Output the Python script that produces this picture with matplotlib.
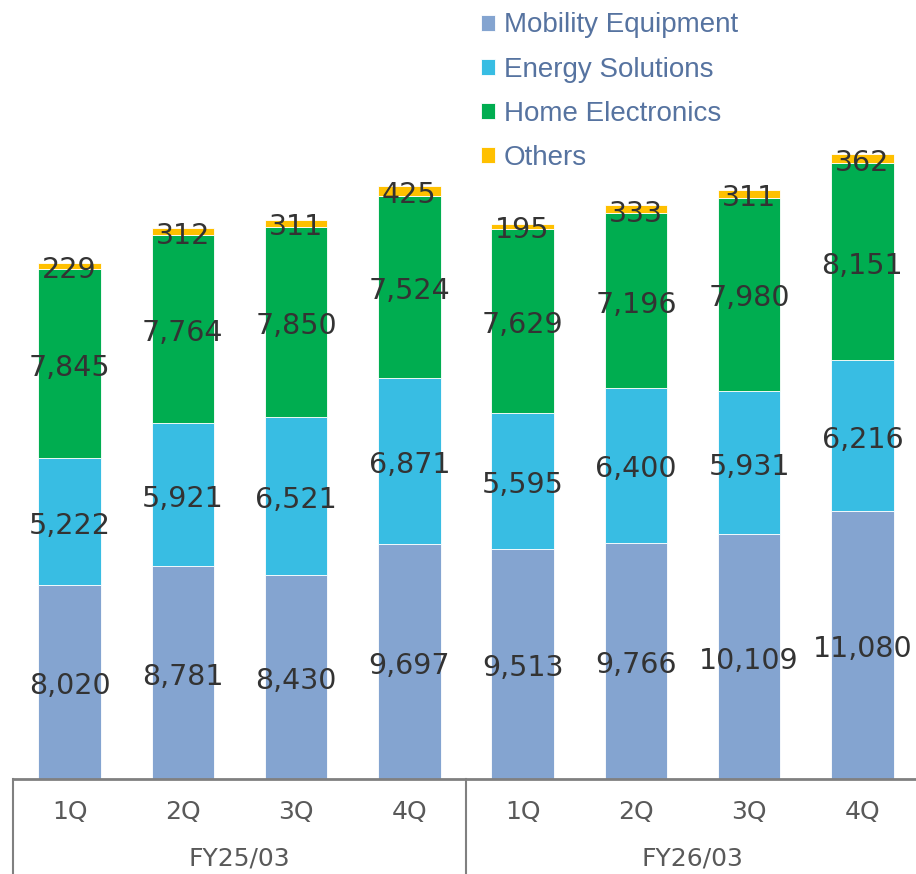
#!/usr/bin/env python3
"""Quarterly sales by segment, stacked bars."""

import matplotlib.pyplot as plt
import numpy as np

quarters = ["1Q", "2Q", "3Q", "4Q", "1Q", "2Q", "3Q", "4Q"]
years = ["FY25/03", "FY26/03"]

mobility = [8020, 8781, 8430, 9697, 9513, 9766, 10109, 11080]
energy = [5222, 5921, 6521, 6871, 5595, 6400, 5931, 6216]
home = [7845, 7764, 7850, 7524, 7629, 7196, 7980, 8151]
others = [229, 312, 311, 425, 195, 333, 311, 362]

segments = ["Mobility Equipment", "Energy Solutions", "Home Electronics", "Others"]
colors = ["#84A4D0", "#38BDE3", "#00AD50", "#FFC000"]


def main() -> None:
    fig = plt.figure(figsize=(9.16, 8.74), dpi=100)
    ax = fig.add_axes([13 / 916, 95 / 874, 906 / 916, 779 / 874])

    x = np.arange(len(quarters))
    bottom = np.zeros(len(quarters))
    for name, vals, c in zip(segments, [mobility, energy, home, others], colors):
        bars = ax.bar(x, vals, 0.55, bottom=bottom, color=c, label=name,
                      edgecolor="white", linewidth=0.6)
        texts = ax.bar_label(bars, labels=[f"{v:,}" for v in vals],
                             label_type="center", fontsize=20.5, color="#333333")
        # labels sit a little below the segment middle in the original
        for t in texts:
            t.xyann = (0, -3)
        bottom += np.array(vals)

    ax.set_xlim(-0.5, 7.5)
    ax.set_ylim(0, 32180)
    ax.set_yticks([])
    for s in ["top", "left", "right"]:
        ax.spines[s].set_visible(False)
    ax.spines["bottom"].set_color("#808080")
    ax.spines["bottom"].set_linewidth(2)

    ax.set_xticks(x, quarters, fontsize=18, color="#595959")
    ax.tick_params(axis="x", length=0, pad=15)

    tr = ax.get_xaxis_transform()
    for xv in [-0.5, 3.5, 7.5]:
        ax.plot([xv, xv], [0, -0.13], transform=tr, color="#808080",
                linewidth=1.5, clip_on=False)
    for i, yr in enumerate(years):
        ax.text(1.5 + 4 * i, -79 / 779, yr, transform=tr, ha="center",
                va="center", fontsize=18, color="#595959")

    ax.legend(loc="upper left", bbox_to_anchor=(462 / 916, 1.008),
              bbox_transform=fig.transFigure, frameon=False,
              prop={"family": "Liberation Sans", "size": 20},
              labelcolor="#5673A0", handlelength=0.5, handleheight=0.5,
              handletextpad=0.3, labelspacing=0.65, borderpad=0.2)

    fig.savefig("out.png", dpi=100)


if __name__ == "__main__":
    main()
